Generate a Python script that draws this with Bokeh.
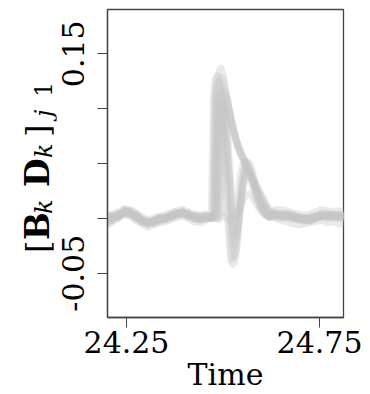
import numpy as np
from bokeh.plotting import figure
from bokeh.models import Range1d, FixedTicker, Div
from bokeh.layouts import row
from bokeh.embed import file_html
from bokeh.resources import INLINE

# ---- time grids ----
t_left = [24.200, 24.215, 24.230, 24.245, 24.260, 24.275, 24.290, 24.305, 24.320,
          24.335, 24.350, 24.365, 24.380, 24.395, 24.410, 24.425, 24.440, 24.455]
t_spike = [24.465, 24.470, 24.475, 24.480, 24.485, 24.490, 24.495, 24.500,
           24.505, 24.510, 24.515, 24.520, 24.525, 24.530, 24.535, 24.540,
           24.545, 24.550, 24.555, 24.560, 24.565, 24.570, 24.575, 24.580,
           24.585, 24.590, 24.595, 24.600, 24.605, 24.610, 24.615, 24.620]
t_right = [24.635, 24.650, 24.665, 24.680, 24.695, 24.710, 24.725, 24.740,
           24.755, 24.770, 24.785, 24.800, 24.815]

# ---- baseline segments (before the event) ----
l1 = [-0.006, -0.003, 0.001, 0.004, 0.002, -0.002, -0.005, -0.008, -0.006, -0.004, -0.003, -0.001, 0.001, 0.002, 0.000, -0.003, -0.004, -0.002]
l2 = [0.002, 0.004, 0.006, 0.009, 0.008, 0.005, 0.001, -0.001, 0.000, 0.002, 0.003, 0.005, 0.007, 0.008, 0.006, 0.004, 0.003, 0.004]
l3 = [-0.003, 0.001, 0.002, 0.007, 0.004, 0.003, -0.003, -0.003, -0.004, 0.000, -0.001, 0.003, 0.003, 0.006, 0.002, 0.002, -0.001, 0.000]
l4 = [0.000, -0.002, 0.004, 0.005, 0.006, 0.000, -0.001, -0.005, -0.002, -0.002, 0.001, 0.001, 0.005, 0.004, 0.004, 0.000, 0.001, 0.002]
l5 = [-0.004, 0.002, 0.003, 0.008, 0.003, 0.001, -0.004, -0.006, -0.002, 0.001, -0.002, 0.000, 0.002, 0.006, 0.001, 0.003, 0.002, -0.001]
l6 = [0.003, 0.000, 0.001, 0.006, 0.007, 0.004, 0.000, -0.002, -0.005, -0.001, 0.002, 0.004, 0.006, 0.003, 0.005, 0.000, -0.002, 0.001]
l7 = [-0.001, 0.003, 0.005, 0.003, 0.005, -0.001, -0.002, -0.004, -0.001, -0.003, 0.000, 0.002, 0.003, 0.007, 0.002, 0.002, 0.001, 0.003]
l8 = [-0.005, -0.001, 0.002, 0.006, 0.004, 0.003, -0.003, -0.003, -0.004, 0.000, 0.001, 0.001, 0.004, 0.004, 0.003, -0.001, 0.000, 0.000]
l9 = [0.001, 0.002, 0.000, 0.007, 0.006, 0.001, -0.001, -0.005, -0.003, -0.002, -0.001, 0.003, 0.005, 0.005, 0.004, 0.002, -0.001, 0.002]
l10 = [-0.002, -0.001, 0.004, 0.005, 0.003, 0.002, -0.002, -0.004, -0.002, 0.001, 0.000, 0.002, 0.004, 0.006, 0.003, 0.001, 0.001, 0.001]

# ---- event segments ----
a1 = [0.001, 0.002, 0.004, 0.112, 0.128, 0.134, 0.137, 0.130, 0.120, 0.110, 0.100, 0.091, 0.083, 0.076, 0.070, 0.065, 0.061, 0.057, 0.053, 0.049, 0.046, 0.042, 0.038, 0.035, 0.031, 0.028, 0.024, 0.021, 0.018, 0.014, 0.011, 0.008]
a2 = [0.000, 0.001, 0.002, 0.006, 0.105, 0.122, 0.128, 0.127, 0.119, 0.110, 0.101, 0.093, 0.085, 0.078, 0.072, 0.067, 0.062, 0.058, 0.054, 0.050, 0.046, 0.042, 0.038, 0.034, 0.030, 0.026, 0.023, 0.019, 0.016, 0.012, 0.009, 0.006]
a3 = [0.002, 0.001, 0.000, 0.001, 0.003, 0.098, 0.112, 0.118, 0.114, 0.106, 0.097, 0.089, 0.081, 0.074, 0.068, 0.063, 0.059, 0.055, 0.051, 0.047, 0.043, 0.039, 0.035, 0.031, 0.027, 0.024, 0.020, 0.017, 0.013, 0.010, 0.007, 0.005]
a4 = [0.001, 0.000, 0.002, 0.001, 0.000, 0.002, 0.004, 0.090, 0.108, 0.110, 0.102, 0.093, 0.085, 0.077, 0.070, 0.064, 0.059, 0.055, 0.051, 0.047, 0.043, 0.039, 0.035, 0.031, 0.027, 0.023, 0.020, 0.016, 0.013, 0.010, 0.007, 0.004]
b1 = [0.001, 0.002, 0.005, 0.108, 0.122, 0.125, 0.118, 0.100, 0.075, 0.045, 0.012, -0.020, -0.042, -0.040, -0.022, 0.000, 0.020, 0.036, 0.047, 0.052, 0.051, 0.046, 0.040, 0.033, 0.026, 0.020, 0.015, 0.011, 0.008, 0.005, 0.003, 0.002]
b2 = [0.000, 0.001, 0.002, 0.007, 0.100, 0.112, 0.115, 0.108, 0.090, 0.065, 0.038, 0.010, -0.018, -0.035, -0.030, -0.012, 0.008, 0.026, 0.039, 0.047, 0.050, 0.049, 0.044, 0.037, 0.030, 0.024, 0.018, 0.013, 0.009, 0.006, 0.004, 0.002]
b3 = [0.002, 0.000, 0.001, 0.003, 0.010, 0.092, 0.103, 0.105, 0.092, 0.070, 0.045, 0.018, -0.008, -0.024, -0.020, -0.004, 0.014, 0.030, 0.041, 0.046, 0.046, 0.042, 0.036, 0.030, 0.024, 0.018, 0.013, 0.009, 0.006, 0.004, 0.002, 0.001]
b4 = [0.001, 0.002, 0.000, 0.001, 0.002, 0.004, 0.080, 0.096, 0.100, 0.085, 0.060, 0.033, 0.008, -0.012, -0.015, -0.004, 0.010, 0.023, 0.033, 0.039, 0.041, 0.040, 0.036, 0.030, 0.024, 0.018, 0.013, 0.009, 0.006, 0.004, 0.002, 0.001]
b5 = [0.002, 0.006, 0.110, 0.127, 0.130, 0.122, 0.104, 0.078, 0.048, 0.015, -0.018, -0.038, -0.036, -0.018, 0.004, 0.024, 0.039, 0.048, 0.051, 0.049, 0.044, 0.038, 0.032, 0.026, 0.020, 0.015, 0.011, 0.008, 0.005, 0.003, 0.002, 0.001]
c1 = [0.001, 0.000, 0.002, 0.001, 0.000, -0.001, 0.001, 0.002, 0.001, 0.000, -0.001, 0.000, 0.001, 0.002, 0.004, 0.007, 0.011, 0.015, 0.019, 0.021, 0.022, 0.022, 0.020, 0.017, 0.014, 0.011, 0.008, 0.006, 0.004, 0.003, 0.002, 0.001]

# ---- baseline segments (after the event) ----
r1 = [0.000, -0.002, -0.003, -0.005, -0.006, -0.005, -0.004, -0.003, -0.002, -0.004, -0.003, -0.005, -0.004]
r2 = [0.008, 0.008, 0.007, 0.005, 0.004, 0.003, 0.004, 0.006, 0.008, 0.007, 0.006, 0.007, 0.005]
r3 = [0.004, 0.003, 0.005, 0.001, -0.001, 0.000, -0.002, 0.002, 0.003, 0.004, 0.001, 0.002, 0.003]
r4 = [0.006, 0.002, 0.001, 0.003, 0.000, -0.003, 0.001, 0.000, 0.004, 0.002, 0.003, 0.000, 0.001]
r5 = [0.002, 0.005, 0.002, 0.000, 0.002, -0.001, -0.003, 0.001, 0.001, 0.003, 0.004, 0.001, 0.002]
r6 = [0.003, 0.001, 0.004, 0.002, -0.002, 0.001, 0.000, -0.001, 0.005, 0.001, 0.002, 0.004, 0.000]
r7 = [0.001, 0.004, 0.003, 0.002, 0.001, -0.002, -0.001, 0.003, 0.002, 0.005, 0.001, 0.003, 0.002]
r8 = [0.005, 0.000, 0.002, -0.001, 0.001, 0.000, -0.002, 0.000, 0.003, 0.000, 0.004, 0.002, 0.001]
r9 = [0.002, 0.003, 0.000, 0.004, 0.001, -0.002, 0.002, 0.002, 0.001, 0.003, 0.000, 0.001, 0.003]
r10 = [0.003, 0.002, 0.003, 0.001, -0.001, 0.001, -0.001, 0.001, 0.002, 0.002, 0.002, 0.003, 0.002]

x_ticks = [24.25, 24.75]
y_ticks_labeled = [-0.05, 0.15]
y_ticks_unlabeled = [0.0, 0.05, 0.10]
y_tick_text = {-0.05: "-0.05", 0.15: "0.15"}

lefts = [l1, l2, l3, l4, l5, l6, l7, l8, l9, l10]
events = [a1, b1, a2, b2, a3, b3, a4, b4, b5, c1]
rights = [r1, r2, r3, r4, r5, r6, r7, r8, r9, r10]

t_all = t_left + t_spike + t_right
xs = [t_all for _ in events]
ys = [l + e + r for l, e, r in zip(lefts, events, rights)]

X0, X1 = 24.2008, 24.812
Y0, Y1 = -0.0904, 0.1904

LABEL_W = 56
p = figure(width=370 - LABEL_W, height=394, output_backend="svg", toolbar_location=None,
           x_range=Range1d(X0, X1), y_range=Range1d(Y0, Y1),
           min_border_left=107 - LABEL_W, min_border_right=27,
           min_border_top=9, min_border_bottom=72)
p.background_fill_color = "white"
p.border_fill_color = "white"
p.grid.visible = False
p.outline_line_color = "#444444"
p.outline_line_width = 1.3

p.multi_line(xs=xs, ys=ys, line_color="#c6c6c6", line_alpha=0.36, line_width=7,
             line_join="round", line_cap="round")

FONT = "DejaVu Serif"
for ax in (p.xaxis[0], p.yaxis[0]):
    ax.axis_line_color = "#444444"
    ax.axis_line_width = 1.3
    ax.major_tick_line_color = "#444444"
    ax.minor_tick_line_color = "#444444"
    ax.major_tick_in = 0
    ax.major_tick_out = 10
    ax.minor_tick_in = 0
    ax.minor_tick_out = 10
    ax.major_label_text_font = FONT
    ax.major_label_text_font_size = "30px"
    ax.major_label_text_font_style = "normal"
    ax.major_label_text_color = "black"

xa = p.xaxis[0]
xa.ticker = FixedTicker(ticks=x_ticks, minor_ticks=[])
xa.major_label_standoff = 3
xa.axis_label = "Time"
xa.axis_label_text_font = FONT
xa.axis_label_text_font_size = "30px"
xa.axis_label_text_font_style = "normal"
xa.axis_label_text_color = "black"
xa.axis_label_standoff = 1

ya = p.yaxis[0]
ya.ticker = FixedTicker(ticks=y_ticks_labeled, minor_ticks=y_ticks_unlabeled)
ya.major_label_overrides = y_tick_text
ya.major_label_orientation = "vertical"
ya.major_label_standoff = 13

# y-axis label [B_k D_k]_{j1}: rotated HTML text pieces (page pixel positions)
pieces = [
    ("[", 253, 49, 32, "normal", "normal"),
    ("B", 240, 49, 33, "bold", "normal"),
    ("k", 214, 52, 24, "normal", "italic"),
    ("D", 187, 49, 33, "bold", "normal"),
    ("k", 158, 52, 24, "normal", "italic"),
    ("]", 137, 49, 32, "normal", "normal"),
    ("j", 117, 52, 24, "normal", "italic"),
    ("1", 97, 52, 24, "normal", "normal"),
]
spans = []
for txt, start_y, base_x, size, weight, style in pieces:
    left = base_x - 0.846 * size
    spans.append(
        f'<span style="position:absolute;left:{left:.1f}px;top:{start_y}px;'
        f"font-family:'{FONT}';font-size:{size}px;line-height:1;font-weight:{weight};"
        f'font-style:{style};color:black;white-space:nowrap;'
        f'transform-origin:0 0;transform:rotate(-90deg);">{txt}</span>'
    )
html = (f'<div style="position:relative;width:{LABEL_W}px;height:394px;margin:0;padding:0;">'
        + "".join(spans) + "</div>")
ylabel = Div(text=html, width=LABEL_W, height=394, margin=0,
             styles={"overflow": "visible", "padding": "0px", "margin": "0px"})

layout = row(ylabel, p, spacing=0)
open("out.html", "w").write(file_html(layout, INLINE))
